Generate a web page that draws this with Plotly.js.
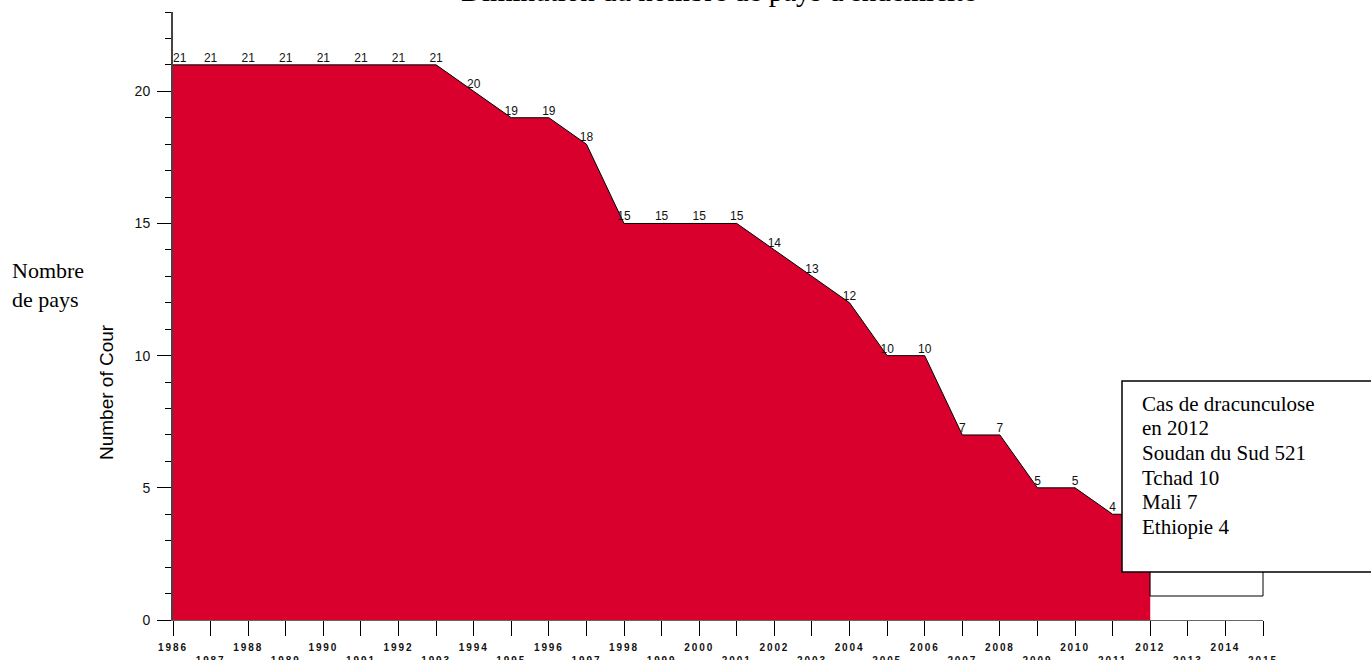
<!DOCTYPE html>
<html>
<head>
<meta charset="utf-8">
<script src="https://cdn.plot.ly/plotly-3.0.1.min.js"></script>
<style>
html,body{margin:0;padding:0;background:#fff;}
#chart{width:1371px;height:660px;}
.xtick text{letter-spacing:1.9px;}
</style>
</head>
<body>
<div id="chart"></div>
<script>
// ---- data ----
const years = [1986,1987,1988,1989,1990,1991,1992,1993,1994,1995,1996,1997,1998,1999,2000,2001,2002,2003,2004,2005,2006,2007,2008,2009,2010,2011,2012];
const countries = [21,21,21,21,21,21,21,21,20,19,19,18,15,15,15,15,14,13,12,10,10,7,7,5,5,4,4];
const tickYears = [1986,1987,1988,1989,1990,1991,1992,1993,1994,1995,1996,1997,1998,1999,2000,2001,2002,2003,2004,2005,2006,2007,2008,2009,2010,2011,2012,2013,2014,2015];
const yTicks = [0,5,10,15,20];
const titleText = "Diminution du nombre de pays d'endémicité";
const sideText = "Nombre<br>de pays";
const yTitleText = "Number of Cour";
const boxLines = ["Cas de dracunculose","en 2012","Soudan du Sud 521","Tchad 10","Mali 7","Ethiopie 4"];

// ---- layout helpers (pixel -> paper) ----
const L = 173, R = 108, T = 12, B = 40, W = 1371, H = 660;
const PW = W - L - R, PH = H - T - B;
const px = x => (x - L) / PW;
const py = y => (H - B - y) / PH;

const tickText = tickYears.map(y => (y % 2 === 0 ? String(y) : "<br>" + y));
const textPos = countries.map((v, i) => (i === 0 ? "top right" : "top center"));
// the label of the last point is hidden behind the note box in the original
const labels = countries.map((v, i) => (i === countries.length - 1 ? "" : String(v)));

const trace = {
  x: years,
  y: countries,
  type: "scatter",
  mode: "lines+text",
  fill: "tozeroy",
  fillcolor: "rgb(217,0,46)",
  line: {color: "#000", width: 1},
  text: labels,
  textposition: textPos,
  textfont: {family: "Liberation Sans, Arial, sans-serif", size: 12, color: "#111"},
  cliponaxis: false,
  hoverinfo: "skip",
  showlegend: false
};

const annotations = [
  {text: titleText, xref: "paper", yref: "paper", x: 0.5, y: py(-9), xanchor: "center", yanchor: "middle",
   showarrow: false, font: {family: "Liberation Serif, Times New Roman, serif", size: 29, color: "#000"}},
  {text: sideText, xref: "paper", yref: "paper", x: px(10), y: py(285), xanchor: "left", yanchor: "middle", align: "left",
   showarrow: false, font: {family: "Liberation Serif, Times New Roman, serif", size: 22, color: "#000"}},
  {text: yTitleText, xref: "paper", yref: "paper", x: px(106), y: py(392), xanchor: "center", yanchor: "middle", textangle: -90,
   showarrow: false, font: {family: "Liberation Sans, Arial, sans-serif", size: 19, color: "#000"}}
];
boxLines.forEach((t, i) => {
  annotations.push({text: t, xref: "paper", yref: "paper", x: px(1140), y: py(404 + 24.5 * i), xanchor: "left", yanchor: "middle",
    showarrow: false, font: {family: "Liberation Serif, Times New Roman, serif", size: 21, color: "#000"}});
});

const shapes = [
  {type: "rect", xref: "paper", yref: "paper", x0: px(1150), x1: px(1263), y0: py(596), y1: py(540),
   line: {color: "#000", width: 1}, fillcolor: "rgba(0,0,0,0)", layer: "above"},
  {type: "rect", xref: "paper", yref: "paper", x0: px(1122), x1: px(1385), y0: py(572), y1: py(381),
   line: {color: "#000", width: 1.5}, fillcolor: "#fff", layer: "above"}
];

const layout = {
  width: W, height: H,
  margin: {l: L, r: R, t: T, b: B, pad: 0},
  paper_bgcolor: "#fff", plot_bgcolor: "#fff",
  showlegend: false,
  xaxis: {
    range: [1986, 2015], tickmode: "array", tickvals: tickYears, ticktext: tickText,
    ticks: "outside", ticklen: 15, tickcolor: "#000", tickwidth: 1,
    showline: true, linecolor: "#666", linewidth: 1, showgrid: false, zeroline: false,
    tickangle: 0, ticklabelstandoff: 3,
    tickfont: {family: "Liberation Sans, Arial, sans-serif", size: 10, color: "#111", weight: "bold"},
    fixedrange: true
  },
  yaxis: {
    range: [0, 23], tickmode: "array", tickvals: yTicks,
    ticks: "outside", ticklen: 14, tickcolor: "#000", tickwidth: 1,
    minor: {dtick: 1, ticks: "outside", ticklen: 6, tickcolor: "#000", tickwidth: 1, showgrid: false},
    showline: true, linecolor: "#444", linewidth: 2, showgrid: false, zeroline: false,
    tickfont: {family: "Liberation Sans, Arial, sans-serif", size: 14, color: "#111"},
    ticklabelstandoff: 4,
    fixedrange: true
  },
  annotations: annotations,
  shapes: shapes
};

Plotly.newPlot("chart", [trace], layout, {displayModeBar: false, staticPlot: true});
</script>
</body>
</html>
